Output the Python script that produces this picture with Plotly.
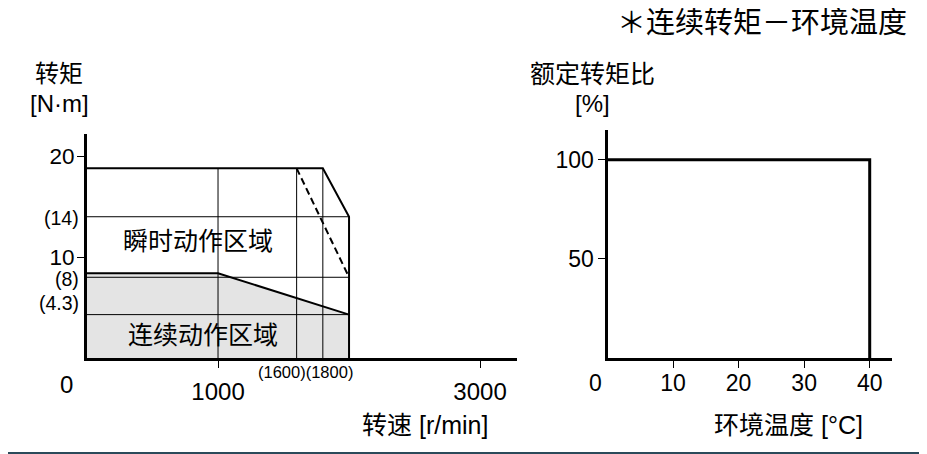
import plotly.graph_objects as go

OFF = 8  # page body margin
W, H = 927 - OFF, 454 - OFF
FONT = "Liberation Sans, Arial, Noto Sans CJK SC, sans-serif"

# ---- Left chart data (speed r/min vs torque N·m)
peak_speed = [0, 1800, 2000, 2000]
peak_torque = [18.8, 18.8, 14, 0]
dash_speed = [1600, 2000]
dash_torque = [18.8, 8]
cont_speed = [0, 1000, 2000]
cont_torque = [8.4, 8.4, 4.3]
grid_v_speeds = [1000, 1600, 1800]
grid_h_torques = [14, 8, 4.3]
left_xticks = [1000, 3000]
left_xtick_text = ["1000", "3000"]
left_yticks = [10, 20]
left_ytick_text = ["10", "20"]
paren_labels = ["(14)", "(8)", "(4.3)"]
paren_label_y = [13.9, 7.8, 5.5]

# ---- Right chart data (ambient temp °C vs rated torque ratio %)
temp = [0, 40, 40]
ratio = [100, 100, 0]
right_xticks = [10, 20, 30, 40]
right_yticks = [50, 100]

def px_x(p):
    return (p - OFF) / W

def px_y(p):
    return 1 - (p - OFF) / H

fig = go.Figure()

# continuous region fill
fig.add_trace(go.Scatter(
    x=[cont_speed[0]] + cont_speed + [cont_speed[-1]],
    y=[0] + cont_torque + [0],
    fill="toself", fillcolor="#e4e4e4", mode="none",
    xaxis="x", yaxis="y", hoverinfo="skip"))

# grid lines
for s in grid_v_speeds:
    fig.add_trace(go.Scatter(x=[s, s], y=[-0.8 if s == 1000 else 0, peak_torque[0]],
                             mode="lines", line=dict(color="black", width=1),
                             xaxis="x", yaxis="y", hoverinfo="skip", cliponaxis=False))
for t in grid_h_torques:
    fig.add_trace(go.Scatter(x=[0, 2000], y=[t, t], mode="lines",
                             line=dict(color="black", width=1),
                             xaxis="x", yaxis="y", hoverinfo="skip"))

# continuous boundary
fig.add_trace(go.Scatter(x=cont_speed, y=cont_torque, mode="lines",
                         line=dict(color="black", width=2),
                         xaxis="x", yaxis="y", hoverinfo="skip"))
# peak boundary
fig.add_trace(go.Scatter(x=peak_speed, y=peak_torque, mode="lines",
                         line=dict(color="black", width=2),
                         xaxis="x", yaxis="y", hoverinfo="skip"))
# dashed
fig.add_trace(go.Scatter(x=dash_speed, y=dash_torque, mode="lines",
                         line=dict(color="black", width=2, dash="7px,4px"),
                         xaxis="x", yaxis="y", hoverinfo="skip"))

# right chart
fig.add_trace(go.Scatter(x=temp, y=ratio, mode="lines",
                         line=dict(color="black", width=3),
                         xaxis="x2", yaxis="y2", hoverinfo="skip", cliponaxis=False))

axis_common = dict(showgrid=False, zeroline=False, showline=True, linecolor="black",
                   linewidth=3, ticks="outside", ticklen=7, tickwidth=1,
                   tickcolor="black", fixedrange=True)

fig.update_layout(
    width=W, height=H, margin=dict(l=0, r=0, t=0, b=0),
    paper_bgcolor="white", plot_bgcolor="white", showlegend=False,
    font=dict(family=FONT, color="black"),
    xaxis=dict(domain=[px_x(87), px_x(517)], range=[0, 3282], anchor="y",
               tickvals=left_xticks, ticktext=left_xtick_text,
               tickfont=dict(size=24), ticklabelstandoff=3, **axis_common),
    yaxis=dict(domain=[px_y(358), px_y(134)], range=[0, 22.2], anchor="x",
               tickvals=left_yticks, ticktext=left_ytick_text,
               tickfont=dict(size=22.5), ticklabelstandoff=-2, **axis_common),
    xaxis2=dict(domain=[px_x(607.5), px_x(892)], range=[0, 43.4], anchor="y2",
                tickvals=right_xticks, tickfont=dict(size=23),
                ticklabelstandoff=-5, **axis_common),
    yaxis2=dict(domain=[px_y(358), px_y(130)], range=[0, 115], anchor="x2",
                tickvals=right_yticks, tickfont=dict(size=23),
                ticklabelstandoff=-1, **axis_common),
)

ann = []
def txt(text, x, y, size, xref="paper", yref="paper", xanchor="center", yanchor="middle"):
    ann.append(dict(text=text, x=x, y=y, xref=xref, yref=yref, showarrow=False,
                    xanchor=xanchor, yanchor=yanchor, font=dict(size=size, family=FONT, color="black")))

# left texts
txt("转矩", px_x(59), px_y(74), 24)
txt("[N·m]", px_x(59), px_y(104), 24)
txt("瞬时动作区域", px_x(198), px_y(241), 25)
txt("连续动作区域", px_x(203), px_y(335), 25)
txt("转速 [r/min]", px_x(425), px_y(425), 25)
txt("0", px_x(66), px_y(384), 24)
for lab, yv in zip(paren_labels, paren_label_y):
    txt(lab, px_x(81), yv, 19.5, yref="y", xanchor="right")
txt("(1600)(1800)", 1664, px_y(372), 16.5, xref="x")

# right texts
txt("＊连续转矩－环境温度", px_x(762), px_y(23), 29)
txt("额定转矩比", px_x(592), px_y(74), 25)
txt("[%]", px_x(592), px_y(104), 24)
txt("环境温度 [°C]", px_x(788), px_y(425), 25)
txt("0", px_x(595), px_y(383), 23)

fig.update_layout(annotations=ann)

# bottom border stripe
fig.add_shape(type="line", xref="paper", yref="paper", x0=-0.02, x1=1.02,
              y0=px_y(453), y1=px_y(453), line=dict(color="#2b4a5a", width=2))

fig.write_html("out.html")
